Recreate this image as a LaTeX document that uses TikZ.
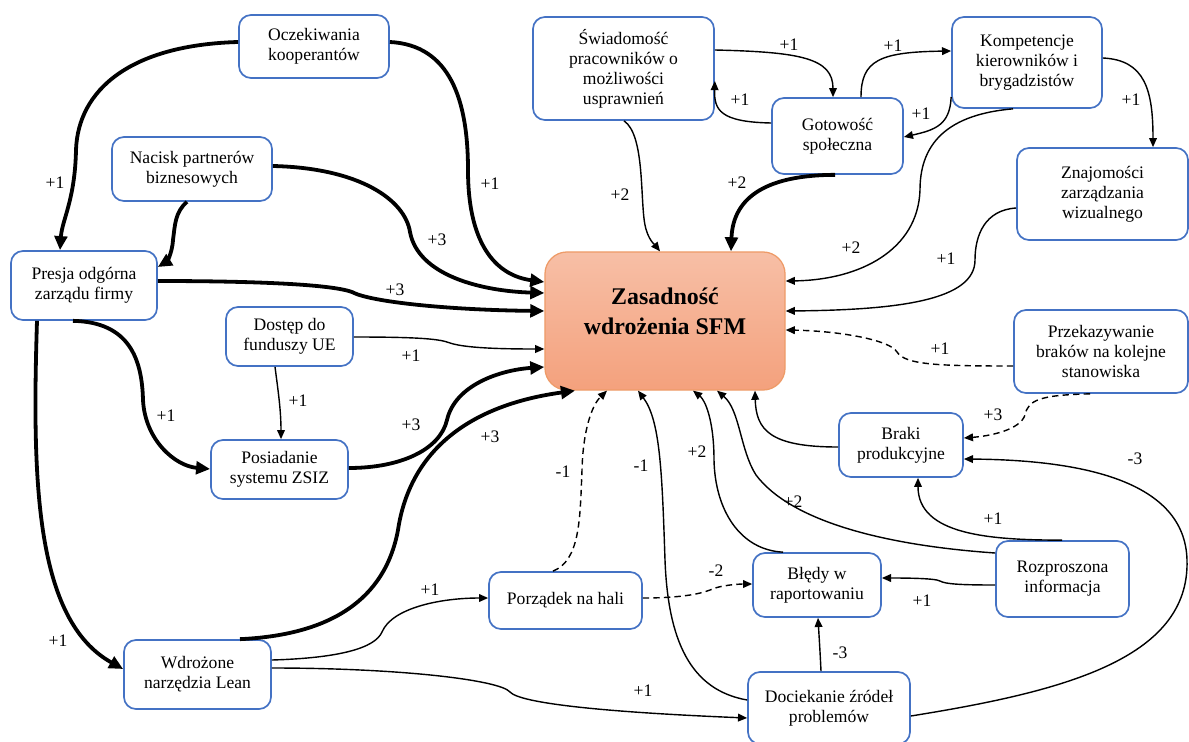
\documentclass[tikz,border=0pt]{standalone}
\usepackage{fontspec}
\setmainfont{Liberation Serif}
\usetikzlibrary{arrows.meta}

\definecolor{boxblue}{HTML}{4472C4}
\definecolor{coretop}{HTML}{F7BFA6}
\definecolor{corebot}{HTML}{F4A17D}
\definecolor{coreline}{HTML}{EE9B68}

\tikzset{
  box/.style={draw=boxblue, line width=1.2pt, rounded corners=0.3cm, fill=white,
    align=center, inner sep=1pt, font=\fontsize{12.5}{14.2}\selectfont},
  core/.style={draw=coreline, line width=0.9pt, rounded corners=0.55cm,
    top color=coretop, bottom color=corebot, align=center,
    font=\fontsize{17}{21.3}\selectfont\bfseries},
  lbl/.style={inner sep=1pt, font=\fontsize{12.5}{14.2}\selectfont},
  heavy/.style={line width=2.7pt, -{Triangle[length=10pt,width=9pt]}},
  light/.style={line width=1pt, -{Triangle[length=6.5pt,width=5.5pt]}},
  dashedlink/.style={light, dash pattern=on 4.5pt off 3pt},
}

\begin{document}
\begin{tikzpicture}[x=0.025cm, y=-0.025cm]

    \useasboundingbox (0,0) rectangle (1189,742);

    % boxes
    \node[core, minimum width=6cm, minimum height=3.45cm, text depth=13.5pt] (sfm) at (665,321) {Zasadność\\wdrożenia SFM};

    \node[box, minimum width=3.75cm, minimum height=1.575cm] (okoop) at (314,46.5) {Oczekiwania\\kooperantów};
    \node[box, minimum width=4cm, minimum height=1.6cm] (nacisk) at (192,169) {Nacisk partnerów\\biznesowych};
    \node[box, minimum width=3.65cm, minimum height=1.725cm] (presja) at (84,285.5) {Presja odgórna\\zarządu firmy};
    \node[box, minimum width=4.525cm, minimum height=2.575cm] (swiad) at (623.5,68.5) {Świadomość\\pracowników o\\możliwości\\usprawnień};
    \node[box, minimum width=3.275cm, minimum height=1.9cm] (gotow) at (837.5,136) {Gotowość\\społeczna};
    \node[box, minimum width=3.75cm, minimum height=2.275cm] (kompet) at (1027,62.5) {Kompetencje\\kierowników i\\brygadzistów};
    \node[box, minimum width=4.275cm, minimum height=2.3cm] (znaj) at (1102.5,194) {Znajomości\\zarządzania\\wizualnego};
    \node[box, minimum width=3.175cm, minimum height=1.475cm] (dostep) at (289.5,336.5) {Dostęp do\\funduszy UE};
    \node[box, minimum width=3.425cm, minimum height=1.475cm] (zsiz) at (279.5,469.5) {Posiadanie\\systemu ZSIZ};
    \node[box, minimum width=4.35cm, minimum height=2.075cm] (przek) at (1101,351.5) {Przekazywanie\\braków na kolejne\\stanowiska};
    \node[box, minimum width=3.1cm, minimum height=1.6cm] (braki) at (901,445) {Braki\\produkcyjne};
    \node[box, minimum width=3.825cm, minimum height=1.425cm] (porz) at (565.5,600.5) {Porządek na hali};
    \node[box, minimum width=3.2cm, minimum height=1.6cm] (bledy) at (817,585) {Błędy w\\raportowaniu};
    \node[box, minimum width=3.325cm, minimum height=1.9cm] (rozpr) at (1062.5,579) {Rozproszona\\informacja};
    \node[box, minimum width=3.675cm, minimum height=1.725cm] (lean) at (197.5,674.5) {Wdrożone\\narzędzia Lean};
    \node[box, minimum width=4.05cm, minimum height=1.8cm] (docie) at (829,708) {Dociekanie źródeł\\problemów};

    % strong links
    \draw[heavy] (okoop.west |- 0,42) .. controls (130,45) and (78,90) .. (76,150)
        .. controls (75,200) and (62,220) .. (presja.north -| 60,0);
    \draw[heavy] (okoop.east |- 0,42) .. controls (450,45) and (468,100) .. (468,170)
        .. controls (468,250) and (500,276) .. (sfm.west |- 0,282);
    \draw[heavy] (nacisk.east |- 0,166) .. controls (360,168) and (405,200) .. (410,232)
        .. controls (418,275) and (480,291) .. (sfm.west |- 0,293);
    \draw[heavy] (presja.east |- 0,281) .. controls (250,281) and (330,284) .. (352,292)
        .. controls (370,302) and (450,310) .. (sfm.west |- 0,311);
    \draw[heavy] (nacisk.south -| 187,0) .. controls (175,212) and (175,225) .. (173,240)
        .. controls (172,255) and (166,262) .. (presja.east |- 0,267);
    \draw[heavy] (presja.south -| 37,0) .. controls (32,480) and (35,620) .. (lean.west |- 0,669);
    \draw[heavy] (presja.south -| 73,0) .. controls (130,322) and (142,360) .. (143,400)
        .. controls (145,440) and (175,466) .. (zsiz.west |- 0,469);
    \draw[heavy] (zsiz.east |- 0,468) .. controls (400,468) and (440,450) .. (447,420)
        .. controls (455,385) and (500,370) .. (sfm.west |- 0,367);
    \draw[heavy] (lean.north -| 240,0) .. controls (330,635) and (385,600) .. (398,530)
        .. controls (410,450) and (470,405) .. (sfm.south -| 575,0);
    \draw[heavy] (gotow.south -| 835,0) .. controls (770,175) and (733,195) .. (sfm.north -| 731,0);

    % weak links
    \draw[light] (dostep.east |- 0,337) .. controls (420,337) and (440,339) .. (450,343)
        .. controls (465,348) and (500,349) .. (sfm.west |- 0,349);
    \draw[light] (dostep.south -| 275,0) .. controls (278,390) and (281,410) .. (zsiz.north -| 281,0);
    \draw[light] (lean.east |- 0,660) .. controls (340,658) and (375,648) .. (382,632)
        .. controls (392,608) and (440,598) .. (porz.west |- 0,598);
    \draw[light] (lean.east |- 0,668) .. controls (400,668) and (500,680) .. (510,692)
        .. controls (520,703) and (600,712) .. (docie.west |- 0,718);
    \draw[light] (docie.west |- 0,700) .. controls (690,690) and (668,640) .. (665,560)
        .. controls (662,470) and (660,420) .. (sfm.south -| 638,0);
    \draw[light] (bledy.north -| 783,0) .. controls (740,550) and (715,510) .. (714,460)
        .. controls (714,420) and (705,400) .. (sfm.south -| 693,0);
    \draw[light] (rozpr.west |- 0,553) .. controls (880,545) and (790,520) .. (756,475)
        .. controls (740,450) and (740,410) .. (sfm.south -| 717,0);
    \draw[light] (rozpr.north -| 1062,0) .. controls (990,540) and (918,535) .. (braki.south -| 918,0);
    \draw[light] (rozpr.west |- 0,585) .. controls (960,585) and (945,584) .. (940,581)
        .. controls (935,578) and (900,578) .. (bledy.east |- 0,578);
    \draw[light] (docie.east |- 0,716) .. controls (1060,692) and (1190,660) .. (1187,560)
        .. controls (1185,480) and (1080,460) .. (braki.east |- 0,459);
    \draw[light] (docie.north -| 821,0) .. controls (820,650) and (819,635) .. (bledy.south -| 818,0);
    \draw[light] (braki.west |- 0,447) .. controls (770,447) and (756,430) .. (sfm.south -| 755,0);
    \draw[light] (znaj.west |- 0,208) .. controls (985,210) and (975,235) .. (975,260)
        .. controls (975,300) and (900,310) .. (sfm.east |- 0,311);
    \draw[light] (kompet.south -| 1013,0) .. controls (940,115) and (920,150) .. (920,190)
        .. controls (918,250) and (860,280) .. (sfm.east |- 0,281);
    \draw[light] (kompet.east |- 0,58) .. controls (1145,60) and (1153,90) .. (znaj.north -| 1153,0);
    \draw[light] (kompet.west |- 0,97) .. controls (950,125) and (935,130) .. (gotow.east |- 0,137);
    \draw[light] (gotow.north -| 861,0) .. controls (861,60) and (880,52) .. (kompet.west |- 0,51);
    \draw[light] (swiad.east |- 0,50) .. controls (800,52) and (833,58) .. (gotow.north -| 833,0);
    \draw[light] (gotow.west |- 0,123) .. controls (720,122) and (714,110) .. (swiad.east |- 0,81);
    \draw[light] (swiad.south -| 624,0) .. controls (645,135) and (640,200) .. (645,225)
        .. controls (648,240) and (655,245) .. (sfm.north -| 660,0);

    % uncertain links
    \draw[dashedlink] (porz.north -| 553,0) .. controls (580,560) and (580,520) .. (582,470)
        .. controls (583,430) and (592,405) .. (sfm.south -| 607,0);
    \draw[dashedlink] (porz.east |- 0,598) .. controls (680,598) and (700,594) .. (710,590)
        .. controls (720,585) and (740,584) .. (bledy.west |- 0,584);
    \draw[dashedlink] (przek.west |- 0,366) .. controls (940,366) and (905,365) .. (897,352)
        .. controls (890,340) and (840,331) .. (sfm.east |- 0,330);
    \draw[dashedlink] (przek.south -| 1090,0) .. controls (1040,395) and (1028,400) .. (1025,415)
        .. controls (1020,430) and (990,436) .. (braki.east |- 0,438);

    % weights
    \node[lbl] (w1) at (55,183) {+1};
    \node[lbl] (w2) at (490,184) {+1};
    \node[lbl] (w3) at (437,240) {+3};
    \node[lbl] (w4) at (395,290) {+3};
    \node[lbl] (w5) at (58,641) {+1};
    \node[lbl] (w6) at (166,416) {+1};
    \node[lbl] (w7) at (411,356) {+1};
    \node[lbl] (w8) at (298,401) {+1};
    \node[lbl] (w9) at (411,425) {+3};
    \node[lbl] (w10) at (490,437) {+3};
    \node[lbl] (w11) at (430,590) {+1};
    \node[lbl] (w12) at (643,691) {+1};
    \node[lbl] (w13) at (563,472) {-1};
    \node[lbl] (w14) at (716,571) {-2};
    \node[lbl] (w15) at (641,466) {-1};
    \node[lbl] (w16) at (697,452) {+2};
    \node[lbl] (w17) at (793,502) {+2};
    \node[lbl] (w18) at (993,519) {+1};
    \node[lbl] (w19) at (922,601) {+1};
    \node[lbl] (w20) at (1135,459) {-3};
    \node[lbl] (w21) at (840,653) {-3};
    \node[lbl] (w22) at (940,349) {+1};
    \node[lbl] (w23) at (993,415) {+3};
    \node[lbl] (w24) at (946,259) {+1};
    \node[lbl] (w25) at (851,248) {+2};
    \node[lbl] (w26) at (1131,100) {+1};
    \node[lbl] (w27) at (921,114) {+1};
    \node[lbl] (w28) at (893,46) {+1};
    \node[lbl] (w29) at (789,45) {+1};
    \node[lbl] (w30) at (740,100) {+1};
    \node[lbl] (w31) at (620,195) {+2};
    \node[lbl] (w32) at (737,183) {+2};

\end{tikzpicture}
\end{document}
